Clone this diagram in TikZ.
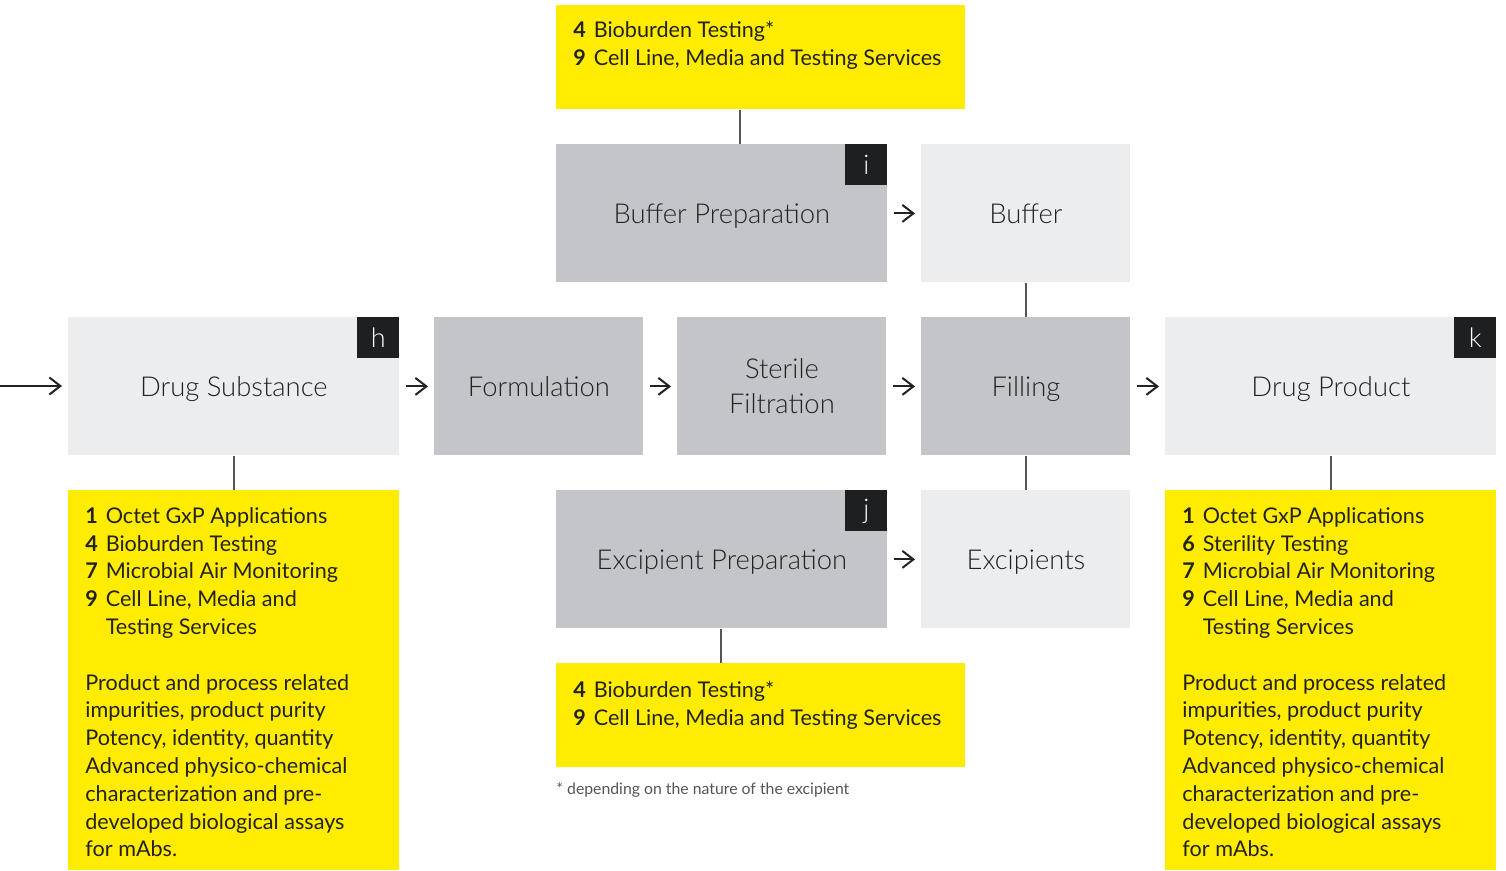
\documentclass[tikz,border=0pt]{standalone}
\usepackage{fontspec}
\setmainfont{Lato}
\newfontfamily\lightfont{Lato Light}
\usetikzlibrary{arrows.meta}
\definecolor{ylw}{HTML}{FFEC00}
\definecolor{midgray}{HTML}{C4C5C9}
\definecolor{lightgray}{HTML}{ECEDEF}
\definecolor{tagdark}{HTML}{1E1F21}
\definecolor{txt}{HTML}{222222}
\definecolor{conn}{HTML}{555555}
\newcommand{\itm}[1]{\makebox[10.2pt][l]{\textbf{#1}}}
\begin{document}
\begin{tikzpicture}[x=0.5pt,y=-0.5pt,
  proc/.style={anchor=north west, inner sep=0pt, minimum height=69pt, align=center,
    text=txt, font=\lightfont\fontsize{13.7}{17.5}\selectfont},
  oneline/.style={text height=9.8pt, text depth=0pt},
  wideproc/.style={proc, oneline, minimum width=165.5pt},
  narrowproc/.style={proc, minimum width=104.5pt},
  midbox/.style={fill=midgray},
  lightbox/.style={fill=lightgray},
  tag/.style={anchor=north east, fill=tagdark, text=white, inner sep=0pt,
    minimum width=21pt, minimum height=20.5pt, font=\lightfont\fontsize{13.5}{15}\selectfont},
  ybox/.style={anchor=north west, fill=ylw, inner sep=0pt},
  ytext/.style={anchor=north west, inner sep=0pt, align=left, text=txt,
    font=\fontsize{10.8}{13.9}\selectfont},
  arr/.style={-{Straight Barb[length=5.5pt,width=8.5pt]}, line width=1pt, txt,
    shorten <=3pt, shorten >=3pt},
  link/.style={conn, line width=0.6pt}]
\useasboundingbox (0,0) rectangle (1506,871);

% top yellow
\node[ybox, minimum width=204.5pt, minimum height=52pt] (ytop) at (556,5) {};
\node[ytext] (ytopt) at (573,21) {\itm{4}Bioburden Testing*\\\itm{9}Cell Line, Media and Testing Services};

% buffer row
\node[wideproc, midbox] (bprep) at (556,144) {Buffer Preparation};
\node[tag] (tagi) at (bprep.north east) {i};
\node[narrowproc, oneline, lightbox] (buf) at (921,144) {Buffer};

% main row
\node[wideproc, lightbox] (ds) at (68,317) {Drug Substance};
\node[tag] (tagh) at (ds.north east) {h};
\node[narrowproc, oneline, midbox] (form) at (434,317) {Formulation};
\node[narrowproc, midbox] (sf) at (677,317) {Sterile\\Filtration};
\node[narrowproc, oneline, midbox] (fill) at (921,317) {Filling};
\node[wideproc, lightbox] (dp) at (1165,317) {Drug Product};
\node[tag] (tagk) at (dp.north east) {k};

% excipient row
\node[wideproc, midbox] (eprep) at (556,490) {Excipient Preparation};
\node[tag] (tagj) at (eprep.north east) {j};
\node[narrowproc, oneline, lightbox] (exc) at (921,490) {Excipients};

% bottom yellow
\node[ybox, minimum width=204.5pt, minimum height=52pt] (ybot) at (556,663) {};
\node[ytext] (ybott) at (573,681) {\itm{4}Bioburden Testing*\\\itm{9}Cell Line, Media and Testing Services};

\node[anchor=west, inner sep=0pt, text=conn, font=\fontsize{7.9}{9}\selectfont] (foot) at (556,790)
  {* depending on the nature of the excipient};

% left yellow
\node[ybox, minimum width=165.5pt, minimum height=190pt] (yleft) at (68,490) {};
\node[ytext] (ylefttext) at (85,507) {\itm{1}Octet GxP Applications\\
\itm{4}Bioburden Testing\\
\itm{7}Microbial Air Monitoring\\
\itm{9}Cell Line, Media and\\
\hspace*{10.2pt}Testing Services\\[13.9pt]
Product and process related\\
impurities, product purity\\
Potency, identity, quantity\\
Advanced physico-chemical\\
characterization and pre-\\
developed biological assays\\
for mAbs.};

% right yellow
\node[ybox, minimum width=165.5pt, minimum height=190pt] (yright) at (1165,490) {};
\node[ytext] (yrighttext) at (1182,507) {\itm{1}Octet GxP Applications\\
\itm{6}Sterility Testing\\
\itm{7}Microbial Air Monitoring\\
\itm{9}Cell Line, Media and\\
\hspace*{10.2pt}Testing Services\\[13.9pt]
Product and process related\\
impurities, product purity\\
Potency, identity, quantity\\
Advanced physico-chemical\\
characterization and pre-\\
developed biological assays\\
for mAbs.};

% arrows
\coordinate (start) at (0,386);
\draw[arr, shorten <=0pt] (start) -- (start -| ds.west);
\draw[arr] (ds.east) -- (form.west);
\draw[arr] (form.east) -- (sf.west);
\draw[arr] (sf.east) -- (fill.west);
\draw[arr] (fill.east) -- (dp.west);
\draw[arr] (bprep.east) -- (buf.west);
\draw[arr] (eprep.east) -- (exc.west);

% links
\draw[link] (ytop.south -| 740,0) -- (bprep.north -| 740,0);
\draw[link] (buf.south) -- (fill.north);
\draw[link] (fill.south) -- (exc.north);
\draw[link] (eprep.south -| 721,0) -- (ybot.north -| 721,0);
\draw[link] (ds.south) -- (yleft.north);
\draw[link] (dp.south) -- (yright.north);
\end{tikzpicture}
\end{document}
